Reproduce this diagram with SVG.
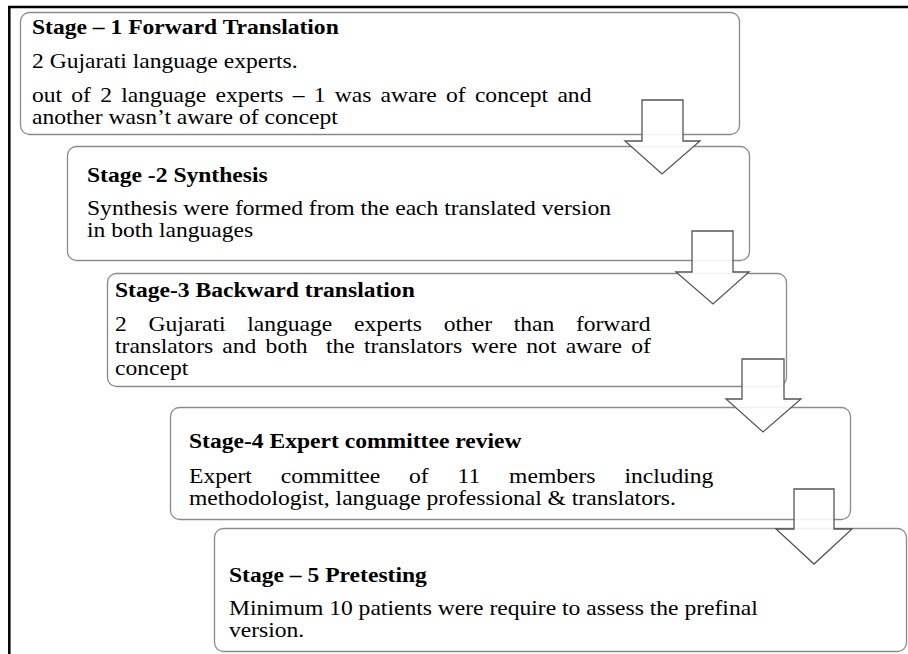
<svg xmlns="http://www.w3.org/2000/svg" width="908" height="654" viewBox="0 0 908 654">
<style>
.box{fill:#ffffff;stroke:#8a8a8a;stroke-width:1.3}
.arr{fill:#ffffff;fill-opacity:0.88;stroke:#555555;stroke-width:1.3;stroke-linejoin:miter}
.t{font-family:"Liberation Serif","Times New Roman",serif;font-size:20.5px;font-weight:bold;fill:#000}
.b{font-family:"Liberation Serif","Times New Roman",serif;font-size:20.5px;fill:#000}
.frame{stroke:#000;stroke-width:2.5;fill:none}
</style>
<path class="frame" d="M9.3,654 V7 H908"/>
<g id="stage1">
<rect class="box" x="20.5" y="12.5" width="719" height="122" rx="9"/>
<text class="t" transform="matrix(1.15 0 0 1 32 34)">Stage – 1 Forward Translation</text>
<text class="b" transform="matrix(1.15 0 0 1 32 68)">2 Gujarati language experts.</text>
<text class="b" transform="matrix(1.15 0 0 1 32 102)" word-spacing="2.9">out of 2 language experts – 1 was aware of concept and</text>
<text class="b" transform="matrix(1.15 0 0 1 32 124)">another wasn’t aware of concept</text>
</g>
<g id="stage2">
<rect class="box" x="67.5" y="146.5" width="682" height="114" rx="9"/>
<text class="t" transform="matrix(1.15 0 0 1 87 182)">Stage -2 Synthesis</text>
<text class="b" transform="matrix(1.15 0 0 1 87 215)">Synthesis were formed from the each translated version</text>
<text class="b" transform="matrix(1.15 0 0 1 87 237)">in both languages</text>
</g>
<g id="stage3">
<rect class="box" x="107.5" y="273.5" width="679" height="113" rx="9"/>
<text class="t" transform="matrix(1.15 0 0 1 115 297)">Stage-3 Backward translation</text>
<text class="b" transform="matrix(1.15 0 0 1 115 331)" word-spacing="13.7">2 Gujarati language experts other than forward</text>
<text class="b" transform="matrix(1.15 0 0 1 115 353)" word-spacing="2.9" xml:space="preserve">translators and both  the translators were not aware of</text>
<text class="b" transform="matrix(1.15 0 0 1 115 375)">concept</text>
</g>
<g id="stage4">
<rect class="box" x="170.5" y="407.5" width="680" height="112" rx="9"/>
<text class="t" transform="matrix(1.15 0 0 1 189 448)">Stage-4 Expert committee review</text>
<text class="b" transform="matrix(1.15 0 0 1 189 483)" word-spacing="20">Expert committee of 11 members including</text>
<text class="b" transform="matrix(1.15 0 0 1 189 505)">methodologist, language professional &amp; translators.</text>
</g>
<g id="stage5">
<rect class="box" x="214.5" y="528.5" width="692" height="123" rx="9"/>
<text class="t" transform="matrix(1.15 0 0 1 229 582)">Stage – 5 Pretesting</text>
<text class="b" transform="matrix(1.15 0 0 1 229 615)">Minimum 10 patients were require to assess the prefinal</text>
<text class="b" transform="matrix(1.15 0 0 1 229 637)">version.</text>
</g>
<g id="connectors">
<polygon class="arr" points="642,100 683,100 683,141 700,141 662,174 625,141 642,141"/>
<polygon class="arr" points="692,231 733,231 733,272 749,272 713,304 676,272 692,272"/>
<polygon class="arr" points="742,359 784,359 784,399 801,399 763,432 726,399 742,399"/>
<polygon class="arr" points="794,489 834,489 834,529 852,529 814,564 776,529 794,529"/>
</g>
</svg>
